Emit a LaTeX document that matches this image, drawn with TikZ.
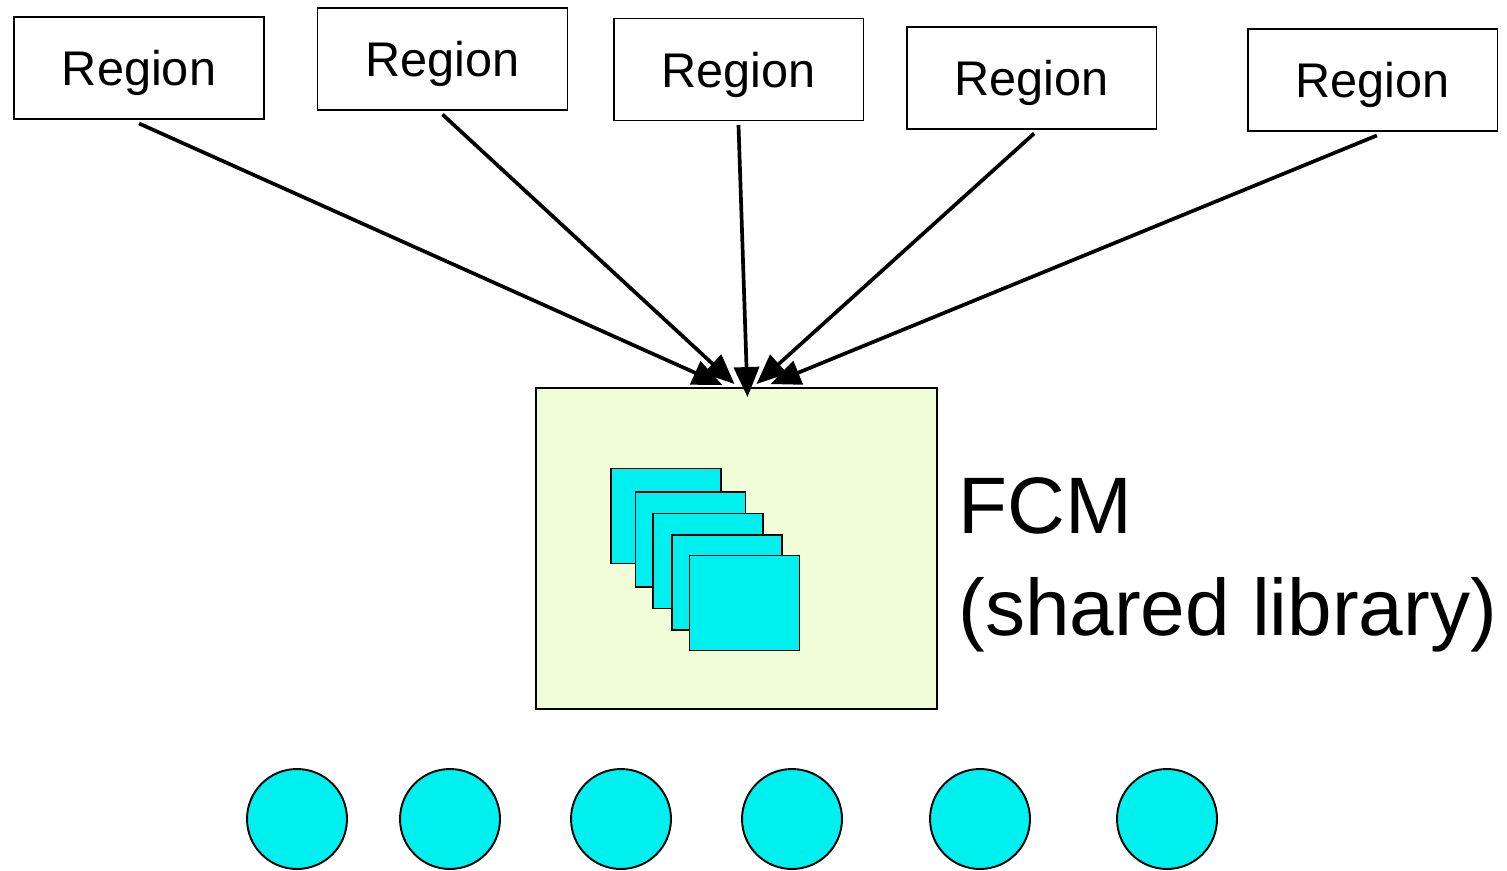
\documentclass[tikz,border=0pt]{standalone}
\usepackage{fontspec}
\setmainfont{Liberation Sans}
\usetikzlibrary{arrows.meta,positioning,calc}
\definecolor{FcmGreen}{HTML}{F0FDD8}
\definecolor{FcmCyan}{HTML}{00EFEF}
\tikzset{
  regionbox/.style={draw=black,line width=1.1pt,minimum width=5cm,minimum height=2.04cm,inner sep=0pt,text depth=0pt,font=\fontsize{27.7}{32}\selectfont},
  fcmbox/.style={draw=black,line width=1.1pt,fill=FcmGreen,minimum width=8.02cm,minimum height=6.42cm,inner sep=0pt},
  modsquare/.style={draw=black,line width=1.1pt,fill=FcmCyan,minimum width=2.2cm,minimum height=1.9cm,inner sep=0pt},
  procdot/.style={circle,draw=black,line width=1.1pt,fill=FcmCyan,minimum size=2cm,inner sep=0pt},
  linkarrow/.style={-{Triangle[length=6mm,width=5mm]},line width=2.1pt,draw=black}
}
\begin{document}
\begin{tikzpicture}[x=0.02cm,y=-0.02cm]
\useasboundingbox (0,0) rectangle (1507,871);
% regions along the top
\node[regionbox] (r1) at (139,68) {Region};
\node[regionbox] (r2) at (442.5,59) {Region};
\node[regionbox] (r3) at (738.5,69.5) {Region};
\node[regionbox] (r4) at (1031.5,78) {Region};
\node[regionbox] (r5) at (1372.5,80) {Region};
% the shared library
\node[fcmbox] (fcm) at (736.5,548.5) {};
\node[modsquare] (m1) at (666,516) {};
\node[modsquare] (m2) at (690.5,539.5) {};
\node[modsquare] (m3) at (708,561) {};
\node[modsquare] (m4) at (727,582.5) {};
\node[modsquare] (m5) at (744.5,603) {};
\node[anchor=north west,inner sep=0pt,align=left,font=\fontsize{45.6}{58}\selectfont] (lbl) at (958,477) {FCM\\(shared library)};
% arrows into FCM
\coordinate (t1) at ($(fcm.north)+(-14,-2)$);
\coordinate (t2) at ($(fcm.north)+(-2,-3)$);
\coordinate (t3) at ($(fcm.north)+(11,10)$);
\coordinate (t4) at ($(fcm.north)+(20,-3)$);
\coordinate (t5) at ($(fcm.north)+(34,-3)$);
\draw[linkarrow] ([yshift=-2pt]r1.south) -- (t1);
\draw[linkarrow] ([yshift=-2pt]r2.south) -- (t2);
\draw[linkarrow] ([yshift=-2pt]r3.south) -- (t3);
\draw[linkarrow] ([xshift=1.5pt,yshift=-2pt]r4.south) -- (t4);
\draw[linkarrow] ([xshift=2.5pt,yshift=-2pt]r5.south) -- (t5);
% processes at the bottom
\node[procdot] (p1) at (297,819) {};
\node[procdot] (p2) at (450,819) {};
\node[procdot] (p3) at (621,819) {};
\node[procdot] (p4) at (792,819) {};
\node[procdot] (p5) at (980,819) {};
\node[procdot] (p6) at (1167,819) {};
\end{tikzpicture}
\end{document}
